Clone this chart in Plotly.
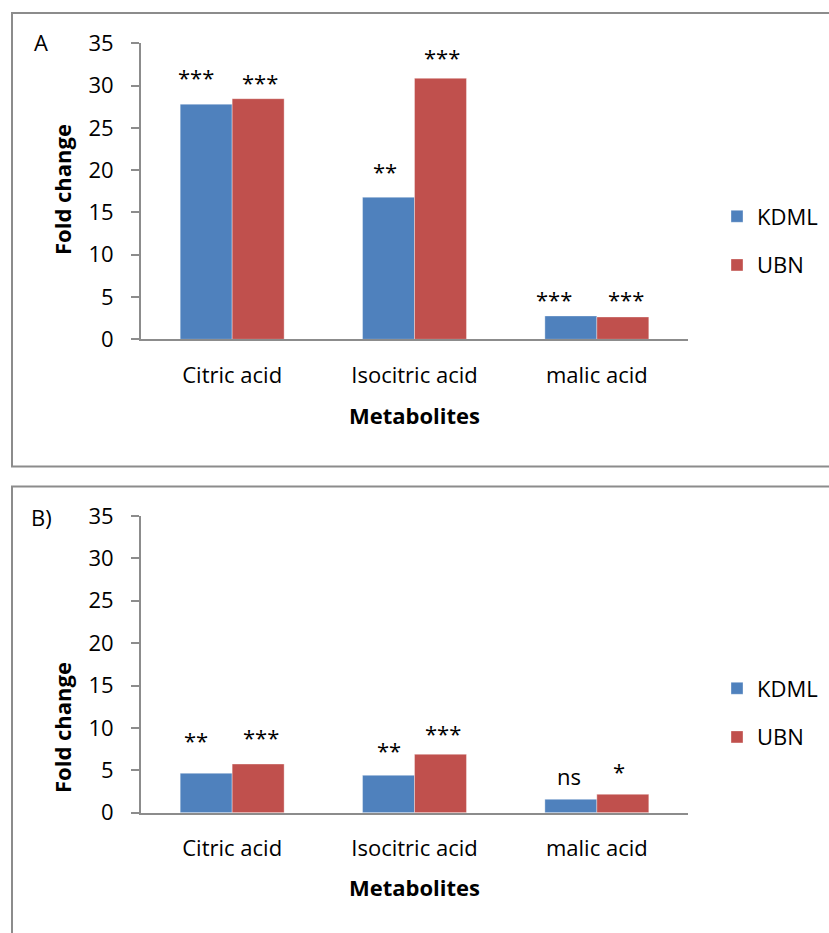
import plotly.graph_objects as go

categories = ["Citric acid", "Isocitric acid", "malic acid"]
series_names = ["KDML", "UBN"]

# Panel A values
kdml_A = [27.8, 16.8, 2.76]
ubn_A = [28.45, 30.86, 2.64]
sig_kdml_A = ["***", "**", "***"]
sig_ubn_A = ["***", "***", "***"]

# Panel B values
kdml_B = [4.65, 4.41, 1.58]
ubn_B = [5.74, 6.89, 2.17]
sig_kdml_B = ["**", "**", "ns"]
sig_ubn_B = ["***", "***", "*"]

y_ticks = [0, 5, 10, 15, 20, 25, 30, 35]

BLUE = "#4F81BD"
RED = "#C0504D"
FONT = "Open Sans"
GRID = "#8c8c8c"
FS = 22

W, H = 829, 933

fig = go.Figure()

panels = [
    dict(kdml=kdml_A, ubn=ubn_A, sk=sig_kdml_A, su=sig_ubn_A, xa="x", ya="y", leg="legend",
         xs_k=[-10, -4, -17], xs_u=[2, 1, 3], ys_k=[29, 28, 19], ys_u=[19, 23, 20]),
    dict(kdml=kdml_B, ubn=ubn_B, sk=sig_kdml_B, su=sig_ubn_B, xa="x2", ya="y2", leg="legend2",
         xs_k=[-10, 0, -2], xs_u=[3, 2, -4], ys_k=[35, 27, 24], ys_u=[29, 23, 25]),
]

annotations = []
half_bar = 26
for i, p in enumerate(panels):
    for name, vals, col, grp in [("KDML", p["kdml"], BLUE, "k"), ("UBN", p["ubn"], RED, "u")]:
        fig.add_trace(go.Bar(
            x=categories, y=vals, name=name,
            marker=dict(color=col, line=dict(color="rgba(255,255,255,0.35)", width=1)),
            xaxis=p["xa"], yaxis=p["ya"], legend=p["leg"], legendgroup=grp + str(i),
        ))
    for j, cat in enumerate(categories):
        for lab, val, xs, ys, side in [(p["sk"][j], p["kdml"][j], p["xs_k"][j], p["ys_k"][j], -1),
                                       (p["su"][j], p["ubn"][j], p["xs_u"][j], p["ys_u"][j], 1)]:
            corr = -1 if lab == "ns" else -2
            annotations.append(dict(
                x=cat, y=val, xref=p["xa"], yref=p["ya"], text=lab, showarrow=False,
                xshift=side * half_bar + xs, yshift=ys + corr, yanchor="middle",
                font=dict(family=FONT, size=FS, color="black"),
            ))

# axis titles / panel labels
for yc, lab_y, lab in [(190, 42, "A"), (728, 517, "B)")]:
    annotations.append(dict(x=62 / W, y=1 - yc / H, xref="paper", yref="paper", text="<b>Fold change</b>",
                            textangle=-90, showarrow=False, xanchor="center", yanchor="middle",
                            font=dict(family=FONT, size=FS, color="black")))
    annotations.append(dict(x=41 / W, y=1 - lab_y / H, xref="paper", yref="paper", text=lab,
                            showarrow=False, xanchor="center", yanchor="middle",
                            font=dict(family=FONT, size=FS, color="black")))
for yc, xa in [(415, "x"), (887, "x2")]:
    annotations.append(dict(x=0.5, y=1 - yc / H, xref=xa + " domain", yref="paper", text="<b>Metabolites</b>",
                            showarrow=False, xanchor="center", yanchor="middle",
                            font=dict(family=FONT, size=FS, color="black")))

x_dom = [141 / W, 688 / W]
yA = [1 - 339.3 / H, 1 - 43.3 / H]
yB = [1 - 812.7 / H, 1 - 516 / H]

xaxis_style = dict(domain=x_dom, showline=True, linecolor=GRID, linewidth=2, ticks="",
                   tickfont=dict(family=FONT, size=FS, color="black"), ticklabelstandoff=15,
                   showgrid=False, zeroline=False, automargin=False)
yaxis_style = dict(range=[0, 35], tickvals=y_ticks, showline=True, linecolor=GRID, linewidth=2,
                   ticks="outside", ticklen=8, tickwidth=2, tickcolor=GRID,
                   tickfont=dict(family=FONT, size=FS, color="black"), ticklabelstandoff=13,
                   showgrid=False, zeroline=False, automargin=False)

legend_style = dict(font=dict(family=FONT, size=FS, color="black"), bgcolor="rgba(0,0,0,0)",
                    xanchor="left", yanchor="middle", tracegroupgap=17, traceorder="grouped")

shapes = [
    dict(type="rect", xref="paper", yref="paper", x0=12 / W, x1=1.02, y0=1 - 466.5 / H, y1=1 - 13 / H,
         line=dict(color=GRID, width=2), fillcolor="rgba(0,0,0,0)", layer="below"),
    dict(type="rect", xref="paper", yref="paper", x0=12 / W, x1=1.02, y0=-0.02, y1=1 - 486.5 / H,
         line=dict(color=GRID, width=2), fillcolor="rgba(0,0,0,0)", layer="below"),
]

fig.update_layout(
    width=W, height=H, margin=dict(l=0, r=0, t=0, b=0, autoexpand=False),
    paper_bgcolor="white", plot_bgcolor="white",
    barmode="group", bargap=0.43, bargroupgap=0,
    xaxis=dict(**xaxis_style, anchor="y"),
    yaxis=dict(**yaxis_style, domain=yA, anchor="x"),
    xaxis2=dict(**xaxis_style, anchor="y2"),
    yaxis2=dict(**yaxis_style, domain=yB, anchor="x2"),
    legend=dict(**legend_style, x=717 / W, y=1 - 241 / H),
    legend2=dict(**legend_style, x=717 / W, y=1 - 713 / H),
    annotations=annotations,
    shapes=shapes,
    showlegend=True,
)

fig.write_html("out.html")
